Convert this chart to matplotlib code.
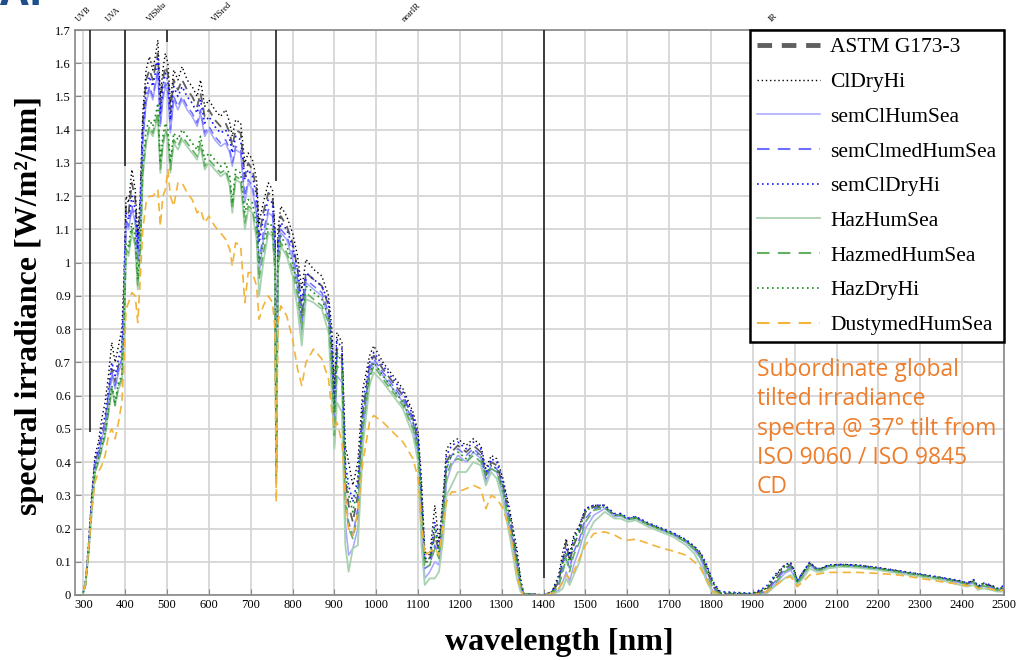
import matplotlib
matplotlib.use("Agg")
import matplotlib.pyplot as plt
from matplotlib.lines import Line2D

# wavelength grid [nm] (UV | VIS | NIR | SWIR1 | SWIR2)
wavelength = [
    280, 298, 305, 312, 320, 328, 336, 344, 352, 360, 368, 376, 384, 392, 397,
    402, 408, 416, 424, 430, 436, 442, 450, 458, 466, 472, 478, 484, 490, 496, 502, 508, 516, 526, 536, 548,
    560, 572, 580, 590, 600, 614, 628, 640, 650, 656, 664, 676, 686, 694, 704, 714, 720, 730, 742, 752, 758,
    761, 765,
    772, 786, 800, 812, 822, 832, 850, 870, 886, 894, 900, 906, 918, 926, 934, 944, 956, 968, 984, 994, 1016,
    1040, 1064, 1088, 1100, 1108, 1116, 1128, 1140, 1150, 1160, 1168, 1180, 1195, 1215, 1232, 1250, 1262,
    1275, 1288, 1303, 1320, 1336, 1345, 1352,
    1400, 1420, 1436, 1446, 1454, 1462, 1472, 1486, 1500, 1520, 1546, 1570, 1584, 1602, 1620, 1650, 1680,
    1710, 1740, 1760, 1775, 1790, 1805, 1822,
    1900, 1932, 1956, 1976, 1990, 2000, 2006, 2020, 2036, 2052, 2064, 2080, 2110, 2150, 2200, 2250, 2300,
    2350, 2395, 2412, 2428, 2438, 2450, 2470, 2485, 2500,
]

astm_g173 = [
    0, 0, 0.03, 0.13, 0.28, 0.40, 0.43, 0.48, 0.52, 0.60, 0.68, 0.64, 0.69, 0.72, 0.88,
    1.17, 1.15, 1.24, 1.19, 1.05, 1.17, 1.42, 1.55, 1.58, 1.55, 1.59, 1.63, 1.47, 1.55, 1.59, 1.57, 1.45,
    1.55, 1.52, 1.55, 1.52, 1.50, 1.47, 1.51, 1.44, 1.46, 1.43, 1.41, 1.42, 1.39, 1.35, 1.40, 1.39, 1.26,
    1.30, 1.28, 1.22, 1.08, 1.15, 1.21, 1.20, 1.08, 0.38, 1.07,
    1.14, 1.11, 1.06, 0.98, 0.85, 0.97, 0.95, 0.93, 0.87, 0.73, 0.55, 0.74, 0.72, 0.35, 0.27, 0.22, 0.30,
    0.55, 0.69, 0.72, 0.68, 0.64, 0.60, 0.53, 0.46, 0.28, 0.10, 0.10, 0.18, 0.13, 0.26, 0.40, 0.43, 0.45,
    0.43, 0.45, 0.43, 0.36, 0.40, 0.39, 0.33, 0.22, 0.11, 0.03, 0.003,
    0, 0.005, 0.04, 0.10, 0.16, 0.10, 0.15, 0.19, 0.25, 0.265, 0.265, 0.24, 0.24, 0.228, 0.232, 0.213,
    0.198, 0.183, 0.162, 0.14, 0.118, 0.075, 0.025, 0.003,
    0.002, 0.015, 0.05, 0.08, 0.09, 0.065, 0.04, 0.065, 0.095, 0.078, 0.078, 0.088, 0.09, 0.088, 0.08,
    0.07, 0.06, 0.05, 0.04, 0.033, 0.042, 0.022, 0.032, 0.026, 0.016, 0.02,
]

cl_dry_hi = [
    0, 0, 0.04, 0.15, 0.30, 0.42, 0.46, 0.53, 0.58, 0.66, 0.76, 0.70, 0.75, 0.80, 0.95,
    1.20, 1.18, 1.28, 1.22, 1.08, 1.20, 1.45, 1.58, 1.62, 1.58, 1.62, 1.67, 1.50, 1.58, 1.63, 1.60, 1.48,
    1.58, 1.55, 1.59, 1.55, 1.53, 1.50, 1.55, 1.47, 1.49, 1.46, 1.44, 1.46, 1.42, 1.38, 1.43, 1.42, 1.30,
    1.33, 1.31, 1.25, 1.12, 1.18, 1.24, 1.22, 1.10, 0.40, 1.10,
    1.17, 1.14, 1.09, 1.02, 0.92, 1.01, 0.98, 0.96, 0.90, 0.80, 0.62, 0.79, 0.76, 0.45, 0.40, 0.33, 0.40,
    0.62, 0.72, 0.75, 0.70, 0.66, 0.62, 0.55, 0.49, 0.35, 0.13, 0.12, 0.27, 0.16, 0.30, 0.44, 0.46, 0.47,
    0.45, 0.47, 0.45, 0.38, 0.42, 0.41, 0.35, 0.25, 0.14, 0.05, 0.005,
    0, 0.01, 0.06, 0.13, 0.17, 0.12, 0.18, 0.21, 0.26, 0.27, 0.27, 0.24, 0.245, 0.23, 0.235, 0.215, 0.20,
    0.185, 0.165, 0.145, 0.125, 0.085, 0.035, 0.005,
    0.003, 0.02, 0.06, 0.09, 0.098, 0.07, 0.04, 0.07, 0.098, 0.08, 0.08, 0.09, 0.092, 0.09, 0.082, 0.072,
    0.062, 0.052, 0.042, 0.035, 0.045, 0.025, 0.035, 0.028, 0.018, 0.025,
]

sem_cl_hum_sea = [
    0, 0, 0.03, 0.13, 0.27, 0.39, 0.42, 0.47, 0.51, 0.58, 0.66, 0.62, 0.67, 0.70, 0.86,
    1.12, 1.10, 1.16, 1.12, 1.00, 1.11, 1.36, 1.48, 1.52, 1.49, 1.53, 1.57, 1.41, 1.49, 1.53, 1.51, 1.39,
    1.49, 1.46, 1.49, 1.46, 1.44, 1.41, 1.45, 1.38, 1.40, 1.37, 1.35, 1.36, 1.33, 1.29, 1.34, 1.33, 1.18,
    1.24, 1.22, 1.14, 0.96, 1.07, 1.15, 1.14, 1.02, 0.36, 1.02,
    1.09, 1.07, 1.01, 0.92, 0.78, 0.94, 0.92, 0.90, 0.83, 0.65, 0.45, 0.66, 0.64, 0.22, 0.12, 0.14, 0.20,
    0.48, 0.67, 0.70, 0.66, 0.62, 0.58, 0.50, 0.42, 0.20, 0.05, 0.07, 0.10, 0.09, 0.20, 0.34, 0.39, 0.42,
    0.40, 0.43, 0.41, 0.34, 0.38, 0.37, 0.30, 0.19, 0.08, 0.02, 0.002,
    0, 0.003, 0.015, 0.04, 0.07, 0.04, 0.09, 0.14, 0.20, 0.24, 0.26, 0.235, 0.238, 0.226, 0.23, 0.21,
    0.196, 0.18, 0.158, 0.135, 0.11, 0.05, 0.01, 0,
    0, 0.005, 0.035, 0.065, 0.075, 0.055, 0.032, 0.055, 0.088, 0.075, 0.075, 0.085, 0.088, 0.085, 0.078,
    0.068, 0.058, 0.048, 0.036, 0.03, 0.036, 0.018, 0.026, 0.02, 0.012, 0.014,
]

sem_cl_med_hum_sea = [
    0, 0, 0.03, 0.13, 0.27, 0.39, 0.42, 0.47, 0.51, 0.59, 0.67, 0.63, 0.68, 0.71, 0.87,
    1.13, 1.11, 1.17, 1.13, 1.01, 1.12, 1.37, 1.49, 1.53, 1.50, 1.54, 1.58, 1.42, 1.50, 1.54, 1.52, 1.40,
    1.50, 1.47, 1.50, 1.47, 1.45, 1.42, 1.46, 1.39, 1.41, 1.38, 1.36, 1.37, 1.34, 1.30, 1.35, 1.34, 1.20,
    1.25, 1.23, 1.16, 1.00, 1.09, 1.16, 1.15, 1.03, 0.37, 1.03,
    1.10, 1.08, 1.03, 0.95, 0.82, 0.95, 0.93, 0.91, 0.85, 0.70, 0.50, 0.72, 0.70, 0.30, 0.22, 0.18, 0.26,
    0.52, 0.68, 0.71, 0.67, 0.63, 0.59, 0.52, 0.45, 0.25, 0.08, 0.09, 0.15, 0.12, 0.24, 0.38, 0.42, 0.44,
    0.42, 0.44, 0.42, 0.35, 0.39, 0.38, 0.32, 0.21, 0.10, 0.03, 0.003,
    0, 0.005, 0.03, 0.08, 0.12, 0.08, 0.13, 0.17, 0.23, 0.26, 0.265, 0.24, 0.242, 0.23, 0.233, 0.214,
    0.199, 0.184, 0.163, 0.142, 0.12, 0.07, 0.02, 0.002,
    0.002, 0.01, 0.045, 0.075, 0.085, 0.06, 0.035, 0.06, 0.092, 0.077, 0.077, 0.087, 0.09, 0.087, 0.08,
    0.07, 0.06, 0.05, 0.04, 0.033, 0.04, 0.02, 0.03, 0.024, 0.015, 0.018,
]

sem_cl_dry_hi = [
    0, 0, 0.035, 0.14, 0.29, 0.41, 0.44, 0.50, 0.54, 0.62, 0.70, 0.66, 0.71, 0.75, 0.90,
    1.15, 1.13, 1.20, 1.16, 1.04, 1.15, 1.40, 1.52, 1.56, 1.53, 1.57, 1.62, 1.45, 1.53, 1.57, 1.55, 1.43,
    1.53, 1.50, 1.53, 1.50, 1.48, 1.45, 1.49, 1.42, 1.44, 1.41, 1.39, 1.40, 1.37, 1.33, 1.38, 1.37, 1.25,
    1.28, 1.26, 1.20, 1.06, 1.13, 1.19, 1.18, 1.06, 0.38, 1.06,
    1.12, 1.10, 1.05, 0.98, 0.88, 0.97, 0.95, 0.93, 0.88, 0.76, 0.58, 0.77, 0.74, 0.40, 0.33, 0.28, 0.35,
    0.58, 0.70, 0.73, 0.69, 0.65, 0.61, 0.54, 0.48, 0.32, 0.11, 0.11, 0.22, 0.14, 0.28, 0.42, 0.45, 0.46,
    0.44, 0.46, 0.44, 0.37, 0.41, 0.40, 0.34, 0.24, 0.12, 0.04, 0.004,
    0, 0.01, 0.05, 0.11, 0.14, 0.11, 0.17, 0.21, 0.26, 0.27, 0.27, 0.245, 0.245, 0.232, 0.236, 0.217,
    0.202, 0.187, 0.167, 0.147, 0.128, 0.09, 0.04, 0.01,
    0.005, 0.025, 0.065, 0.09, 0.098, 0.072, 0.042, 0.07, 0.098, 0.08, 0.08, 0.09, 0.092, 0.09, 0.082,
    0.073, 0.063, 0.053, 0.043, 0.036, 0.046, 0.026, 0.036, 0.03, 0.02, 0.028,
]

haz_hum_sea = [
    0, 0, 0.03, 0.12, 0.25, 0.37, 0.40, 0.44, 0.48, 0.55, 0.62, 0.57, 0.62, 0.64, 0.77,
    1.03, 1.02, 1.09, 1.05, 0.92, 1.03, 1.26, 1.36, 1.40, 1.38, 1.41, 1.44, 1.27, 1.35, 1.39, 1.37, 1.27,
    1.36, 1.34, 1.37, 1.35, 1.33, 1.31, 1.35, 1.28, 1.30, 1.28, 1.26, 1.27, 1.23, 1.15, 1.25, 1.24, 1.10,
    1.16, 1.15, 1.07, 0.90, 1.00, 1.09, 1.08, 0.97, 0.34, 0.97,
    1.05, 1.02, 0.96, 0.86, 0.75, 0.89, 0.88, 0.86, 0.79, 0.60, 0.44, 0.58, 0.55, 0.15, 0.07, 0.14, 0.15,
    0.45, 0.63, 0.67, 0.64, 0.60, 0.56, 0.48, 0.40, 0.15, 0.03, 0.05, 0.05, 0.07, 0.17, 0.30, 0.33, 0.37,
    0.37, 0.40, 0.39, 0.33, 0.37, 0.35, 0.28, 0.17, 0.05, 0.01, 0.001,
    0, 0.002, 0.01, 0.02, 0.05, 0.03, 0.06, 0.10, 0.17, 0.22, 0.25, 0.23, 0.23, 0.22, 0.225, 0.205, 0.19,
    0.175, 0.15, 0.125, 0.09, 0.04, 0.005, 0,
    0, 0.003, 0.03, 0.05, 0.06, 0.05, 0.03, 0.05, 0.08, 0.07, 0.07, 0.08, 0.085, 0.082, 0.075, 0.065,
    0.055, 0.045, 0.03, 0.025, 0.03, 0.015, 0.02, 0.015, 0.01, 0.01,
]

haz_med_hum_sea = [
    0, 0, 0.03, 0.12, 0.25, 0.37, 0.40, 0.44, 0.48, 0.55, 0.62, 0.57, 0.63, 0.65, 0.78,
    1.04, 1.03, 1.10, 1.06, 0.93, 1.04, 1.27, 1.37, 1.41, 1.39, 1.42, 1.45, 1.28, 1.36, 1.40, 1.38, 1.28,
    1.37, 1.35, 1.38, 1.36, 1.34, 1.32, 1.36, 1.29, 1.31, 1.29, 1.27, 1.28, 1.24, 1.16, 1.26, 1.25, 1.12,
    1.17, 1.16, 1.09, 0.95, 1.03, 1.10, 1.09, 0.98, 0.35, 0.98,
    1.06, 1.03, 0.98, 0.90, 0.80, 0.91, 0.89, 0.87, 0.82, 0.67, 0.48, 0.69, 0.67, 0.28, 0.20, 0.17, 0.24,
    0.50, 0.65, 0.69, 0.65, 0.61, 0.57, 0.50, 0.43, 0.24, 0.08, 0.09, 0.14, 0.11, 0.23, 0.36, 0.40, 0.41,
    0.40, 0.42, 0.40, 0.36, 0.38, 0.37, 0.31, 0.20, 0.09, 0.03, 0.003,
    0, 0.004, 0.025, 0.07, 0.11, 0.07, 0.12, 0.16, 0.22, 0.255, 0.262, 0.238, 0.24, 0.228, 0.231, 0.212,
    0.197, 0.182, 0.16, 0.138, 0.115, 0.065, 0.018, 0.002,
    0.001, 0.008, 0.04, 0.07, 0.08, 0.058, 0.034, 0.058, 0.09, 0.076, 0.076, 0.086, 0.088, 0.086, 0.079,
    0.069, 0.059, 0.049, 0.038, 0.032, 0.038, 0.019, 0.028, 0.022, 0.014, 0.016,
]

haz_dry_hi = [
    0, 0, 0.03, 0.12, 0.26, 0.38, 0.41, 0.45, 0.49, 0.56, 0.63, 0.58, 0.64, 0.66, 0.80,
    1.06, 1.05, 1.12, 1.08, 0.95, 1.06, 1.30, 1.40, 1.43, 1.41, 1.44, 1.48, 1.30, 1.38, 1.42, 1.40, 1.30,
    1.39, 1.37, 1.40, 1.38, 1.36, 1.34, 1.38, 1.31, 1.33, 1.31, 1.29, 1.30, 1.26, 1.18, 1.28, 1.27, 1.15,
    1.19, 1.18, 1.12, 1.00, 1.06, 1.12, 1.11, 1.00, 0.36, 1.00,
    1.08, 1.05, 1.00, 0.93, 0.84, 0.93, 0.91, 0.89, 0.84, 0.72, 0.55, 0.73, 0.70, 0.37, 0.30, 0.25, 0.33,
    0.55, 0.66, 0.70, 0.66, 0.62, 0.58, 0.52, 0.45, 0.30, 0.11, 0.11, 0.20, 0.13, 0.27, 0.39, 0.42, 0.43,
    0.41, 0.43, 0.42, 0.36, 0.39, 0.38, 0.32, 0.23, 0.11, 0.04, 0.004,
    0, 0.008, 0.045, 0.10, 0.13, 0.10, 0.16, 0.20, 0.255, 0.265, 0.265, 0.24, 0.24, 0.228, 0.232, 0.213,
    0.198, 0.183, 0.163, 0.143, 0.122, 0.085, 0.035, 0.008,
    0.004, 0.02, 0.06, 0.085, 0.093, 0.068, 0.04, 0.068, 0.095, 0.078, 0.078, 0.088, 0.09, 0.088, 0.08,
    0.071, 0.061, 0.051, 0.041, 0.034, 0.043, 0.024, 0.034, 0.027, 0.018, 0.024,
]

dusty_med_hum_sea = [
    0, 0, 0.03, 0.13, 0.26, 0.34, 0.37, 0.39, 0.42, 0.48, 0.50, 0.47, 0.52, 0.58, 0.70,
    0.86, 0.88, 0.91, 0.90, 0.82, 0.95, 1.10, 1.18, 1.20, 1.20, 1.21, 1.22, 1.11, 1.20, 1.22, 1.28, 1.20,
    1.17, 1.24, 1.24, 1.21, 1.19, 1.15, 1.16, 1.12, 1.14, 1.11, 1.09, 1.07, 1.04, 0.99, 1.06, 1.05, 0.88,
    0.97, 0.97, 0.93, 0.83, 0.87, 0.90, 0.88, 0.80, 0.28, 0.82,
    0.87, 0.84, 0.77, 0.68, 0.63, 0.70, 0.74, 0.71, 0.65, 0.55, 0.50, 0.52, 0.46, 0.30, 0.20, 0.18, 0.25,
    0.40, 0.52, 0.54, 0.52, 0.49, 0.46, 0.41, 0.35, 0.22, 0.12, 0.13, 0.14, 0.12, 0.22, 0.28, 0.31, 0.31,
    0.32, 0.33, 0.32, 0.26, 0.30, 0.29, 0.26, 0.19, 0.06, 0.02, 0.0,
    0, 0.005, 0.02, 0.04, 0.06, 0.05, 0.07, 0.11, 0.15, 0.185, 0.19, 0.18, 0.17, 0.165, 0.168, 0.155,
    0.142, 0.132, 0.12, 0.10, 0.08, 0.045, 0.01, 0,
    0, 0.01, 0.03, 0.05, 0.055, 0.04, 0.025, 0.04, 0.06, 0.062, 0.065, 0.068, 0.068, 0.068, 0.065, 0.06,
    0.05, 0.04, 0.032, 0.028, 0.03, 0.02, 0.022, 0.018, 0.012, 0.015,
]

# spectral band markers at the top of the plot
band_edges = [315, 400, 500, 760, 1400]
band_edge_bottom = [0.49, 1.29, 1.665, 1.245, 0.05]
band_names = ["UVB", "UVA", "VISblu", "VISred", "nearIR", "IR"]
band_name_pos = [300, 372, 476, 631, 1085, 1950]

series = [
    ("ASTM G173-3", astm_g173, dict(color="#5f5f5f", lw=1.3, dashes=(5, 3))),
    ("ClDryHi", cl_dry_hi, dict(color="black", lw=1.0, dashes=(1, 2))),
    ("semClHumSea", sem_cl_hum_sea, dict(color="#a6a6ff", lw=1.1)),
    ("semClmedHumSea", sem_cl_med_hum_sea, dict(color="#6f6fff", lw=1.1, dashes=(5, 3))),
    ("semClDryHi", sem_cl_dry_hi, dict(color="#1414ff", lw=1.2, dashes=(1, 2))),
    ("HazHumSea", haz_hum_sea, dict(color="#a9d2b0", lw=1.3)),
    ("HazmedHumSea", haz_med_hum_sea, dict(color="#63b063", lw=1.2, dashes=(5, 3))),
    ("HazDryHi", haz_dry_hi, dict(color="#188c18", lw=1.2, dashes=(1, 2))),
    ("DustymedHumSea", dusty_med_hum_sea, dict(color="#f2b43a", lw=1.2, dashes=(5, 3))),
]

serif = "Liberation Serif"

fig = plt.figure(figsize=(10.23, 6.6), dpi=100)
ax = fig.add_axes([0.0733, 0.0985, 0.908, 0.856])

for name, vals, style in series:
    ax.plot(wavelength, vals, label=name, **style)

ax.vlines(band_edges, band_edge_bottom, 1.7, color="#222222", lw=1.2, zorder=5)
for name, xpos in zip(band_names, band_name_pos):
    ax.text(xpos, 1.72, name, rotation=45, ha="center", va="bottom", fontsize=6,
            family=serif, clip_on=False)

ax.set_xlim(280, 2500)
ax.set_ylim(0, 1.7)
ax.set_xticks(range(300, 2501, 100))
yt = [i / 10 for i in range(18)]
ax.set_yticks(yt)
ax.set_yticklabels([f"{v:g}" for v in yt])
ax.grid(True, color="#d6d6d6", lw=1.3)
ax.set_axisbelow(True)
ax.tick_params(direction="in", length=4, color="#888888", labelsize=9, pad=3)
for lab in ax.get_xticklabels() + ax.get_yticklabels():
    lab.set_family(serif)
for sp in ax.spines.values():
    sp.set_color("#888888")
    sp.set_linewidth(1.2)

ax.set_ylabel("spectral irradiance [W/m²/nm]", family=serif, fontsize=23, fontweight="bold")
ax.set_xlabel("wavelength [nm]", family=serif, fontsize=23, fontweight="bold")
ax.yaxis.set_label_coords(-0.033, 0.513)
ax.xaxis.set_label_coords(0.521, -0.058)

# legend with longer dash patterns, like the original
handles = []
for name, vals, style in series:
    st = dict(style)
    if "dashes" in st and st["dashes"][0] > 2:
        st["dashes"] = (6, 4)
        st["lw"] = 1.5
    if name == "ASTM G173-3":
        st = dict(color="#5f5f5f", lw=3.5, dashes=(3, 2))
    handles.append(Line2D([], [], **st))
leg = ax.legend(handles, [s[0] for s in series], loc="upper right", borderaxespad=0,
                prop={"family": serif, "size": 15.5}, handlelength=2.9, handletextpad=0.5,
                labelspacing=0.68, borderpad=0.34, fancybox=False, framealpha=1)
leg.get_frame().set_edgecolor("black")
leg.get_frame().set_linewidth(1.8)

ax.text(0.734, 0.42, "Subordinate global\ntilted irradiance\nspectra @ 37° tilt from\n"
        "ISO 9060 / ISO 9845\nCD", transform=ax.transAxes, ha="left", va="top",
        color="#ee7d2b", fontsize=16.5, family="Open Sans", linespacing=1.3)

# clipped slide title in the corner
fig.text(0.0, 0.993, "AI", color="#1f4e8c", fontsize=30, fontweight="bold", family="Open Sans",
         ha="left", va="baseline")

fig.savefig("out.png", dpi=100)
